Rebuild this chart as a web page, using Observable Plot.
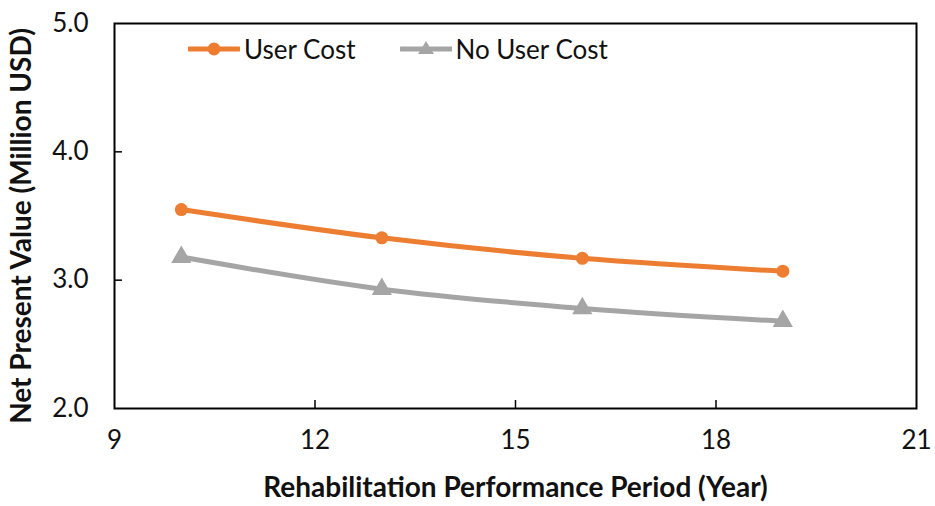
<!DOCTYPE html>
<html><head><meta charset="utf-8">
<script src="https://cdn.jsdelivr.net/npm/d3@7"></script>
<script src="https://cdn.jsdelivr.net/npm/@observablehq/plot@0.6"></script>
<style>
body{margin:0;background:#fff;}
#wrap{position:relative;width:935px;height:506px;font-family:Lato,"Open Sans",sans-serif;}
#legend{position:absolute;left:188px;top:33px;display:flex;align-items:center;font-size:26px;color:#111;}
#legend .item{display:flex;align-items:center;margin-right:44px;}
#legend svg{margin-right:4px;}
</style></head>
<body><div id="wrap"><div id="legend"></div></div>
<script>
const years = [10, 13, 16, 19];
const userCost = [3.55, 3.33, 3.17, 3.07];
const noUserCost = [3.18, 2.93, 2.78, 2.68];
const seriesNames = ["User Cost", "No User Cost"];
const seriesColors = ["#ED7D31", "#A5A5A5"];
const xTicks = [9, 12, 15, 18, 21];
const yTicks = [2.0, 3.0, 4.0, 5.0];

const data = [
  ...years.map((x, i) => ({x, y: userCost[i], s: seriesNames[0]})),
  ...years.map((x, i) => ({x, y: noUserCost[i], s: seriesNames[1]}))
];
const d0 = data.filter(d => d.s === seriesNames[0]);
const d1 = data.filter(d => d.s === seriesNames[1]);

const font = "Lato, 'Open Sans', sans-serif";
const chart = Plot.plot({
  width: 935, height: 506,
  marginLeft: 114, marginRight: 19, marginTop: 23, marginBottom: 98,
  style: {fontFamily: font, fontSize: "26px", color: "#111", background: "#fff"},
  x: {domain: [9, 21], ticks: xTicks},
  y: {domain: [2, 5], ticks: yTicks},
  marks: [
    Plot.axisX({ticks: xTicks, tickSize: 0, tickPadding: 22, fontSize: 26, label: null}),
    Plot.axisY({ticks: yTicks, tickSize: 0, tickPadding: 26, fontSize: 26, label: null, tickFormat: d3.format(".1f")}),
    Plot.tickX([12, 15, 18], {stroke: "#000", strokeWidth: 1.5, insetTop: 377}),
    Plot.tickY([3, 4], {stroke: "#000", strokeWidth: 1.5, insetRight: 794}),
    Plot.frame({stroke: "#000", strokeWidth: 2}),
    Plot.line(d1, {x: "x", y: "y", stroke: seriesColors[1], strokeWidth: 5, curve: "catmull-rom"}),
    Plot.dot(d1, {x: "x", y: "y", symbol: "triangle", fill: seriesColors[1], r: 7.5}),
    Plot.line(d0, {x: "x", y: "y", stroke: seriesColors[0], strokeWidth: 5, curve: "catmull-rom"}),
    Plot.dot(d0, {x: "x", y: "y", symbol: "circle", fill: seriesColors[0], r: 6.5}),
    Plot.text(["Rehabilitation Performance Period (Year)"], {frameAnchor: "bottom", dy: 88, text: d => d, fontWeight: "bold", fontSize: 28, fill: "#111"}),
    Plot.text(["Net Present Value (Million USD)"], {frameAnchor: "left", textAnchor: "middle", dx: -92, dy: 10, rotate: -90, text: d => d, fontWeight: "bold", fontSize: 28, fill: "#111"})
  ]
});
document.getElementById("wrap").prepend(chart);
chart.style.position = "absolute"; chart.style.left = "0"; chart.style.top = "0";

const legend = document.getElementById("legend");
seriesNames.forEach((name, i) => {
  const item = document.createElement("div");
  item.className = "item";
  const sym = i === 0
    ? `<circle cx="26" cy="14" r="6.5" fill="${seriesColors[i]}"/>`
    : `<path d="M26,6 L34,19 L18,19 Z" fill="${seriesColors[i]}"/>`;
  item.innerHTML = `<svg width="52" height="28"><line x1="1" x2="51" y1="14" y2="14" stroke="${seriesColors[i]}" stroke-width="5" stroke-linecap="round"/>${sym}</svg><span>${name}</span>`;
  legend.appendChild(item);
});
</script></body></html>
